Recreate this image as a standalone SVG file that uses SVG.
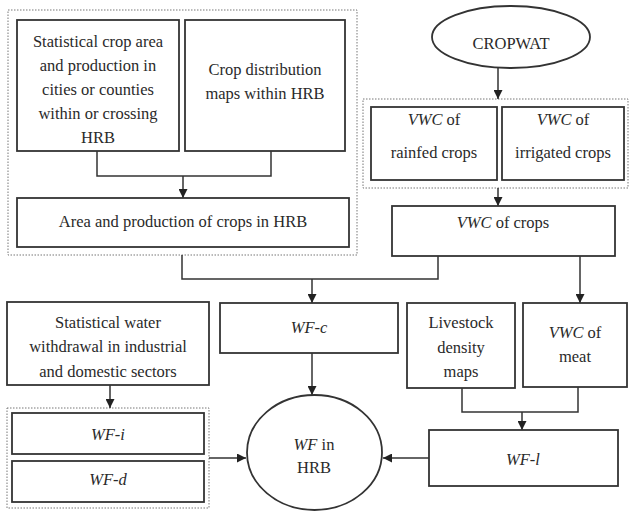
<svg xmlns="http://www.w3.org/2000/svg" width="629" height="513" viewBox="0 0 629 513">
<style>
.box{fill:#fff;stroke:#333;stroke-width:1.8}
.grp{fill:none;stroke:#777;stroke-width:1;stroke-dasharray:1.5 1.5}
.t{font-family:'Liberation Serif','Times New Roman','DejaVu Serif',serif;font-size:16.5px;fill:#2a2a2a;text-anchor:middle}
.i{font-style:italic}
.c{fill:none;stroke:#333;stroke-width:1.5}
</style>
<defs>
<marker id="ah" viewBox="0 0 10 10" refX="10" refY="5" markerWidth="9" markerHeight="9" markerUnits="userSpaceOnUse" orient="auto">
<path d="M0,0 L10,5 L0,10 z" fill="#222"/>
</marker>
</defs>
<rect width="629" height="513" fill="#fff"/>

<g id="groups">
<rect class="grp" x="8" y="10" width="349" height="245"/>
<rect class="grp" x="363" y="99" width="265" height="89"/>
<rect class="grp" x="7" y="408" width="202" height="100"/>
</g>

<g id="connectors">
<path class="c" d="M97,151 V176 H271 V151"/>
<path class="c" d="M183,176 V198" marker-end="url(#ah)"/>
<path class="c" d="M498,68 V99" marker-end="url(#ah)"/>
<path class="c" d="M498,188 V206" marker-end="url(#ah)"/>
<path class="c" d="M182,255 V279 H438 V256"/>
<path class="c" d="M312,279 V303" marker-end="url(#ah)"/>
<path class="c" d="M312,353 V395" marker-end="url(#ah)"/>
<path class="c" d="M580,256 V303" marker-end="url(#ah)"/>
<path class="c" d="M462,388 V412 H578 V387"/>
<path class="c" d="M522,412 V430" marker-end="url(#ah)"/>
<path class="c" d="M429,458 H383" marker-end="url(#ah)"/>
<path class="c" d="M110,385 V408" marker-end="url(#ah)"/>
<path class="c" d="M209,458 H246" marker-end="url(#ah)"/>
</g>

<g id="stat-crop">
<rect class="box" x="17" y="20" width="162" height="131"/>
<text class="t" x="98" y="47">Statistical crop area</text>
<text class="t" x="98" y="71">and production in</text>
<text class="t" x="98" y="95">cities or counties</text>
<text class="t" x="98" y="119">within or crossing</text>
<text class="t" x="98" y="143">HRB</text>
</g>

<g id="crop-dist">
<rect class="box" x="185" y="20" width="160" height="131"/>
<text class="t" x="265" y="75">Crop distribution</text>
<text class="t" x="265" y="99">maps within HRB</text>
</g>

<g id="area-prod">
<rect class="box" x="17" y="198" width="332" height="49"/>
<text class="t" x="183" y="227">Area and production of crops in HRB</text>
</g>

<g id="cropwat">
<ellipse class="box" cx="511" cy="37" rx="79" ry="31"/>
<text class="t" x="511" y="49">CROPWAT</text>
</g>

<g id="vwc-rainfed">
<rect class="box" x="371" y="107" width="126" height="73"/>
<text class="t" x="434" y="125"><tspan class="i">VWC</tspan> of</text>
<text class="t" x="434" y="158">rainfed crops</text>
</g>

<g id="vwc-irrigated">
<rect class="box" x="502" y="107" width="122" height="73"/>
<text class="t" x="563" y="125"><tspan class="i">VWC</tspan> of</text>
<text class="t" x="563" y="158">irrigated crops</text>
</g>

<g id="vwc-crops">
<rect class="box" x="392" y="206" width="223" height="50"/>
<text class="t" x="503" y="228"><tspan class="i">VWC</tspan> of crops</text>
</g>

<g id="stat-water">
<rect class="box" x="7" y="302" width="202" height="83"/>
<text class="t" x="108" y="328">Statistical water</text>
<text class="t" x="108" y="352">withdrawal in industrial</text>
<text class="t" x="108" y="377">and domestic sectors</text>
</g>

<g id="wf-c">
<rect class="box" x="220" y="303" width="178" height="50"/>
<text class="t i" x="309" y="333">WF-c</text>
</g>

<g id="livestock">
<rect class="box" x="407" y="303" width="108" height="85"/>
<text class="t" x="461" y="328">Livestock</text>
<text class="t" x="461" y="353">density</text>
<text class="t" x="461" y="377">maps</text>
</g>

<g id="vwc-meat">
<rect class="box" x="523" y="303" width="104" height="84"/>
<text class="t" x="575" y="338"><tspan class="i">VWC</tspan> of</text>
<text class="t" x="575" y="362">meat</text>
</g>

<g id="wf-i">
<rect class="box" x="12" y="413" width="192" height="41"/>
<text class="t i" x="108" y="440">WF-i</text>
</g>

<g id="wf-d">
<rect class="box" x="12" y="461" width="192" height="41"/>
<text class="t i" x="108" y="485">WF-d</text>
</g>

<g id="wf-hrb">
<ellipse class="box" cx="314.5" cy="452.5" rx="67.5" ry="57.5"/>
<text class="t" x="314" y="450"><tspan class="i">WF</tspan> in</text>
<text class="t" x="314" y="473">HRB</text>
</g>

<g id="wf-l">
<rect class="box" x="429" y="430" width="189" height="56"/>
<text class="t i" x="523" y="465">WF-l</text>
</g>
</svg>
